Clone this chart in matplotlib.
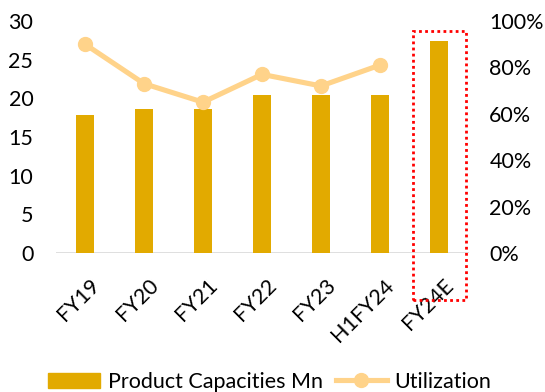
import numpy as np
import matplotlib.pyplot as plt
from matplotlib.patches import Rectangle
from matplotlib.lines import Line2D
from matplotlib.ticker import PercentFormatter
from matplotlib.transforms import ScaledTranslation

plt.rcParams['font.family'] = ['Lato', 'DejaVu Sans']

# data
years = ['FY19', 'FY20', 'FY21', 'FY22', 'FY23', 'H1FY24', 'FY24E']
capacity = [17.8, 18.6, 18.6, 20.4, 20.4, 20.4, 27.4]
utilization = [90, 73, 65, 77, 72, 81]  # percent, no value for FY24E

bar_col = '#E2AA00'
line_col = '#FFD38A'
fs = 15.5

W, H = 545, 392
fig = plt.figure(figsize=(W/100, H/100), dpi=100)
ax = fig.add_axes([55.5/W, 1-253/H, 413/W, 232/H])
ax2 = ax.twinx()

x = np.arange(len(years))
ax.bar(x, capacity, width=0.305, color=bar_col, zorder=2)
ax2.plot(x[:len(utilization)], utilization, color=line_col, lw=3.7,
         marker='o', ms=10, zorder=3)

ax.set_xlim(-0.5, len(years)-0.5)
ax.set_ylim(0, 30)
ax.set_yticks(range(0, 31, 5))
ax2.set_ylim(0, 100)
ax2.set_yticks(range(0, 101, 20))
ax2.yaxis.set_major_formatter(PercentFormatter(decimals=0))

ax.set_xticks(x)
ax.set_xticklabels(years, rotation=45, ha='right', va='top',
                   rotation_mode='anchor', fontsize=fs)
for a in (ax, ax2):
    for s in a.spines.values():
        s.set_visible(False)
    a.tick_params(length=0, labelsize=fs)
ax.tick_params(axis='y', pad=16)
ax2.tick_params(axis='y', pad=15)
ax.tick_params(axis='x', pad=16)
shift = ScaledTranslation(4/100, 0, fig.dpi_scale_trans)
for lab in ax.get_xticklabels():
    lab.set_transform(lab.get_transform() + shift)
ax.axhline(0, color='#D9D9D9', lw=1.2, zorder=1)

# dotted highlight box around the estimate
trans = ax.get_xaxis_transform()
box = Rectangle((5.559, -0.2026), 0.898, 1.161, transform=trans, fill=False,
                ec='red', ls=(0, (1, 1.2)), lw=2, clip_on=False, zorder=4)
ax.add_patch(box)

handles = [Rectangle((0, 0), 1, 1, color=bar_col),
           Line2D([0], [0], color=line_col, lw=3.7, marker='o', ms=10)]
fig.legend(handles, ['Product Capacities Mn', 'Utilization'],
           loc='center', bbox_to_anchor=(270/W, 1-382/H), ncol=2,
           frameon=False, fontsize=fs, handlelength=2.4, columnspacing=0.6,
           handletextpad=0.35, borderpad=0, borderaxespad=0)

fig.savefig('out.png', dpi=100)
